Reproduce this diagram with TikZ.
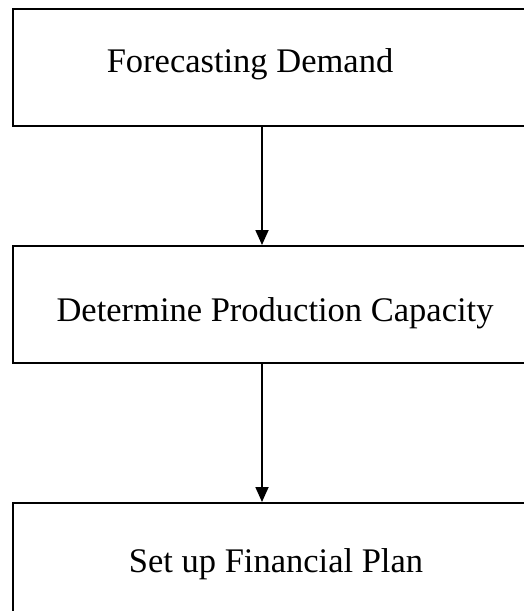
\documentclass[tikz,border=0pt]{standalone}
\usepackage{fontspec}
\setmainfont{Liberation Serif}
\usetikzlibrary{arrows.meta}
\begin{document}
\begin{tikzpicture}[x=1pt,y=1pt,
  stepbox/.style={draw, line width=2pt, rectangle, minimum width=530pt, minimum height=117pt, anchor=north west, inner sep=0pt},
  lbl/.style={font=\fontsize{34.5}{40}\selectfont, anchor=center},
  conn/.style={line width=1.8pt, -{Triangle[length=15pt,width=13pt]}}]
\useasboundingbox (0,0) rectangle (523,-611);
\node[stepbox] (b1) at (12,-8) {};
\node[stepbox] (b2) at (12,-245) {};
\node[stepbox, minimum height=140pt] (b3) at (12,-502) {};
\node[lbl] (t1) at (250,-64) {Forecasting Demand};
\node[lbl] (t2) at (275,-313) {Determine Production Capacity};
\node[lbl] (t3) at (276,-564) {Set up Financial Plan};
\draw[conn] (262,-125) coordinate (s1) -- (262,-245) coordinate (e1);
\draw[conn] (262,-363) coordinate (s2) -- (262,-502) coordinate (e2);
\end{tikzpicture}
\end{document}
